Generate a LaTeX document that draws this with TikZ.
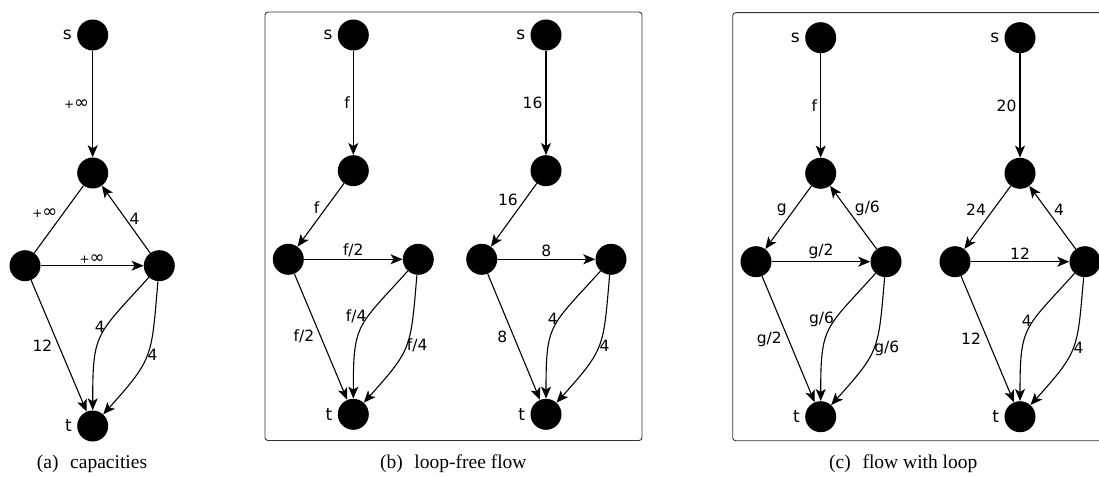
\documentclass[tikz,border=0pt]{standalone}
\usepackage{fontspec}
\setmainfont{Liberation Serif}
\newfontfamily\lblfont{DejaVu Sans}
\usetikzlibrary{arrows.meta}
\newcommand{\pinf}{+{\fontsize{18}{18}\selectfont ∞}}
\begin{document}
\begin{tikzpicture}[x=1pt,y=1pt,
  vtx/.style={circle,fill=black,minimum size=31pt,inner sep=0pt},
  sl/.style={label={[font=\lblfont\fontsize{17}{20}\selectfont,inner sep=0pt,label distance=5pt]left:#1}},
  arr/.style={line width=1.1pt,-{Stealth[length=12pt,width=10pt,inset=3pt]}},
  und/.style={line width=1.1pt},
  inner/.style={arr,out=228,in=90,looseness=1.4},
  outer/.style={arr,out=-95,in=48,looseness=1.35},
  el/.style={font=\lblfont\fontsize{15.5}{18}\selectfont,inner sep=1pt},
  il/.style={font=\lblfont\fontsize{12}{14}\selectfont,inner sep=1pt},
  capt/.style={font=\fontsize{19.5}{22}\selectfont,inner sep=0pt},
  frame/.style={draw=black!80,line width=0.9pt,rounded corners=3pt}]
\useasboundingbox (0,0) rectangle (1099,477);

% ---------- frames ----------
\draw[frame] (265,36.5) rectangle (642,465);
\begin{scope}
  \clip (0,0) rectangle (1099,477);
  \draw[frame] (732.7,36.3) rectangle (1112,464.3);
\end{scope}

% ---------- (a) capacities ----------
\node[vtx,sl=s] (as) at (92.7,442) {};
\node[vtx] (am) at (92.7,304) {};
\node[vtx] (al) at (25,211.3) {};
\node[vtx] (ar) at (159.3,211.3) {};
\node[vtx,sl=t] (at) at (92.7,51) {};
\draw[arr] (as) -- node[il,midway,left=2pt] {\pinf} (am);
\draw[und] (am) -- node[il,midway,anchor=south east] {\pinf} (al);
\draw[arr] (ar) -- node[el,midway,anchor=west,inner sep=3pt] {4} (am);
\draw[arr] (al) -- node[il,midway,above=1pt] {\pinf} (ar);
\draw[arr] (al) -- node[el,midway,left=5pt] {12} (at);
\draw[inner] (ar) to node[el,pos=0.4,anchor=east] {4} (at);
\draw[outer] (ar) to node[el,pos=0.5,anchor=west,inner sep=0pt] {4} (at);
\node[capt] (capa) at (92,13.5) {(a)\hspace{0.6em}capacities};

% ---------- (b) loop-free flow, left ----------
\node[vtx,sl=s] (bs) at (353.3,442) {};
\node[vtx] (bm) at (353.3,306.3) {};
\node[vtx] (bl) at (288.3,217.7) {};
\node[vtx] (br) at (418.3,217.7) {};
\node[vtx,sl=t] (bt) at (353.3,62.7) {};
\draw[arr] (bs) -- node[el,midway,left=2pt] {f} (bm);
\draw[arr] (bm) -- node[el,midway,anchor=south east] {f} (bl);
\draw[arr] (bl) -- node[el,midway,above=1pt] {f/2} (br);
\draw[arr] (bl) -- node[el,midway,left=5pt] {f/2} (bt);
\draw[inner] (br) to node[el,pos=0.38,anchor=east] {f/4} (bt);
\draw[outer] (br) to node[el,pos=0.5,anchor=west,inner sep=0pt] {f/4} (bt);

% ---------- (b) loop-free flow, right ----------
\node[vtx,sl=s] (cs) at (546,442) {};
\node[vtx] (cm) at (546,306.3) {};
\node[vtx] (cl) at (481.7,217.7) {};
\node[vtx] (cr) at (611,217.7) {};
\node[vtx,sl=t] (ct) at (546,62.7) {};
\draw[arr] (cs) -- node[el,midway,left=2pt] {16} (cm);
\draw[arr] (cm) -- node[el,pos=0.38,anchor=south east] {16} (cl);
\draw[arr] (cl) -- node[el,midway,above=1pt] {8} (cr);
\draw[arr] (cl) -- node[el,midway,left=5pt] {8} (ct);
\draw[inner] (cr) to node[el,pos=0.4,anchor=east] {4} (ct);
\draw[outer] (cr) to node[el,pos=0.5,anchor=west,inner sep=0pt] {4} (ct);
\node[capt] (capb) at (453.3,13.5) {(b)\hspace{0.6em}loop-free flow};

% ---------- (c) flow with loop, left ----------
\node[vtx,sl=s] (ds) at (820.7,439.3) {};
\node[vtx] (dm) at (820.7,303.7) {};
\node[vtx] (dl) at (756,215.3) {};
\node[vtx] (dr) at (886,215.3) {};
\node[vtx,sl=t] (dt) at (820.7,60.3) {};
\draw[arr] (ds) -- node[el,midway,left=2pt] {f} (dm);
\draw[arr] (dm) -- node[el,midway,anchor=south east] {g} (dl);
\draw[arr] (dr) -- node[el,midway,anchor=south west] {g/6} (dm);
\draw[arr] (dl) -- node[el,midway,above=1pt] {g/2} (dr);
\draw[arr] (dl) -- node[el,midway,left=5pt] {g/2} (dt);
\draw[inner] (dr) to node[el,pos=0.38,anchor=east] {g/6} (dt);
\draw[outer] (dr) to node[el,pos=0.5,anchor=west,inner sep=0pt] {g/6} (dt);

% ---------- (c) flow with loop, right ----------
\node[vtx,sl=s] (es) at (1020,439.3) {};
\node[vtx] (em) at (1020,303.7) {};
\node[vtx] (el) at (955,215.3) {};
\node[vtx] (er) at (1085,215.3) {};
\node[vtx,sl=t] (et) at (1020,60.3) {};
\draw[arr] (es) -- node[el,midway,left=2pt] {20} (em);
\draw[arr] (em) -- node[el,midway,anchor=south east] {24} (el);
\draw[arr] (er) -- node[el,midway,anchor=south west] {4} (em);
\draw[arr] (el) -- node[el,midway,above=1pt] {12} (er);
\draw[arr] (el) -- node[el,midway,left=5pt] {12} (et);
\draw[inner] (er) to node[el,pos=0.4,anchor=east] {4} (et);
\draw[outer] (er) to node[el,pos=0.5,anchor=west,inner sep=0pt] {4} (et);
\node[capt] (capc) at (903.3,13.5) {(c)\hspace{0.6em}flow with loop};
\end{tikzpicture}
\end{document}
